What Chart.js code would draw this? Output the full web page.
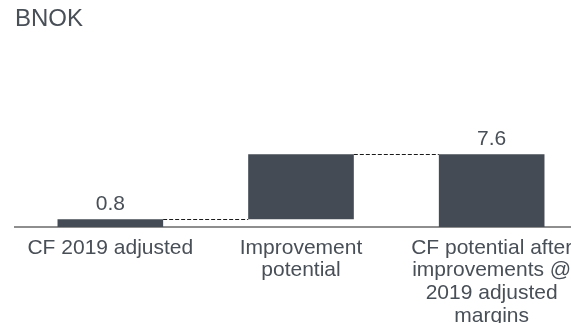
<!DOCTYPE html>
<html>
<head>
<meta charset="utf-8">
<title>BNOK</title>
<script src="https://cdn.jsdelivr.net/npm/chart.js@4/dist/chart.umd.min.js"></script>
<style>
    html, body {
        margin: 0;
        padding: 0;
        background: #ffffff;
        overflow: hidden;
    }
    /* the plot runs a little past the right edge of the page */
    .chart-wrap {
        position: relative;
        width: 590px;
        height: 323px;
    }
</style>
</head>
<body>
<div class="chart-wrap">
    <canvas id="bridgeChart"></canvas>
</div>
<script>
// Bridge data (BNOK)
const categories = [
    ['CF 2019 adjusted'],
    ['Improvement', 'potential'],
    ['CF potential after', 'improvements @', '2019 adjusted', 'margins']
];
const values = [0.8, 6.8, 7.6];
// 'step' bars float on the running total, 'total' bars start at zero
const barTypes = ['total', 'step', 'total'];
const showValue = [true, false, true];

const barColor = '#444b54';
const textColor = '#494f57';
const axisColor = '#8e8e8e';
const fontFamily = '"Liberation Sans", Arial, sans-serif';

// Category label layout
const labelFontSize = 21;
const labelLineStep = 22.8;
const labelBaselineGap = 26.5;   // axis to first baseline

// Turn the values into floating [start, end] ranges
function buildRanges() {
    const ranges = [];
    let running = 0;
    values.forEach((v, i) => {
        if (barTypes[i] === 'total') {
            ranges.push([0, v]);
            running = v;
        } else {
            ranges.push([running, running + v]);
            running += v;
        }
    });
    return ranges;
}

// Dashed connectors between neighbouring bars at the running total
const connectorPlugin = {
    id: 'connectors',
    afterDatasetsDraw(chart) {
        const ctx = chart.ctx;
        const meta = chart.getDatasetMeta(0);
        const yScale = chart.scales.y;
        const ranges = chart.data.datasets[0].data;
        ctx.save();
        ctx.strokeStyle = '#1a1a1a';
        ctx.lineWidth = 1;
        ctx.setLineDash([4, 2]);
        for (let i = 0; i < meta.data.length - 1; i++) {
            const a = meta.data[i];
            const b = meta.data[i + 1];
            const level = ranges[i][1];
            const y = Math.round(yScale.getPixelForValue(level)) + 0.5;
            ctx.beginPath();
            ctx.moveTo(a.x + a.width / 2, y);
            ctx.lineTo(b.x - b.width / 2, y);
            ctx.stroke();
        }
        ctx.restore();
    }
};

// Value labels above the total bars
const valueLabelPlugin = {
    id: 'valueLabels',
    afterDatasetsDraw(chart) {
        const ctx = chart.ctx;
        const meta = chart.getDatasetMeta(0);
        ctx.save();
        ctx.fillStyle = textColor;
        ctx.font = '21px ' + fontFamily;
        ctx.textAlign = 'center';
        ctx.textBaseline = 'alphabetic';
        meta.data.forEach((bar, i) => {
            if (!showValue[i]) return;
            const top = Math.min(bar.y, bar.base);
            ctx.fillText(values[i].toFixed(1), bar.x, top - 9.5);
        });
        ctx.restore();
    }
};

// Multi-line category labels under the axis
const categoryLabelPlugin = {
    id: 'categoryLabels',
    afterDraw(chart) {
        const ctx = chart.ctx;
        const xScale = chart.scales.x;
        ctx.save();
        ctx.fillStyle = textColor;
        ctx.font = labelFontSize + 'px ' + fontFamily;
        ctx.textAlign = 'center';
        ctx.textBaseline = 'alphabetic';
        chart.data.labels.forEach((lines, i) => {
            const x = xScale.getPixelForValue(i);
            lines.forEach((line, j) => {
                ctx.fillText(line, x, xScale.top + labelBaselineGap + j * labelLineStep);
            });
        });
        ctx.restore();
    }
};

document.addEventListener('DOMContentLoaded', function() {
    const ctx = document.getElementById('bridgeChart').getContext('2d');

    new Chart(ctx, {
        type: 'bar',
        data: {
            labels: categories,
            datasets: [{
                data: buildRanges(),
                backgroundColor: barColor,
                borderWidth: 0,
                borderSkipped: false,
                categoryPercentage: 1,
                barPercentage: 0.554
            }]
        },
        options: {
            responsive: true,
            maintainAspectRatio: false,
            animation: false,
            layout: {
                padding: { left: 15, right: 3, top: 0, bottom: 0 }
            },
            plugins: {
                legend: { display: false },
                tooltip: { enabled: false },
                title: {
                    display: true,
                    text: 'BNOK',
                    align: 'start',
                    color: textColor,
                    font: { family: fontFamily, size: 24, weight: 'normal', lineHeight: 1.2 },
                    padding: { top: 5, bottom: 40.2 }
                }
            },
            scales: {
                x: {
                    grid: { display: false, drawTicks: false },
                    border: { display: true, color: axisColor, width: 2 },
                    ticks: { display: false },
                    afterFit: function(scale) {
                        scale.height = 96;
                    }
                },
                y: {
                    display: false,
                    min: 0,
                    max: 16
                }
            }
        },
        plugins: [connectorPlugin, valueLabelPlugin, categoryLabelPlugin]
    });
});
</script>
</body>
</html>
